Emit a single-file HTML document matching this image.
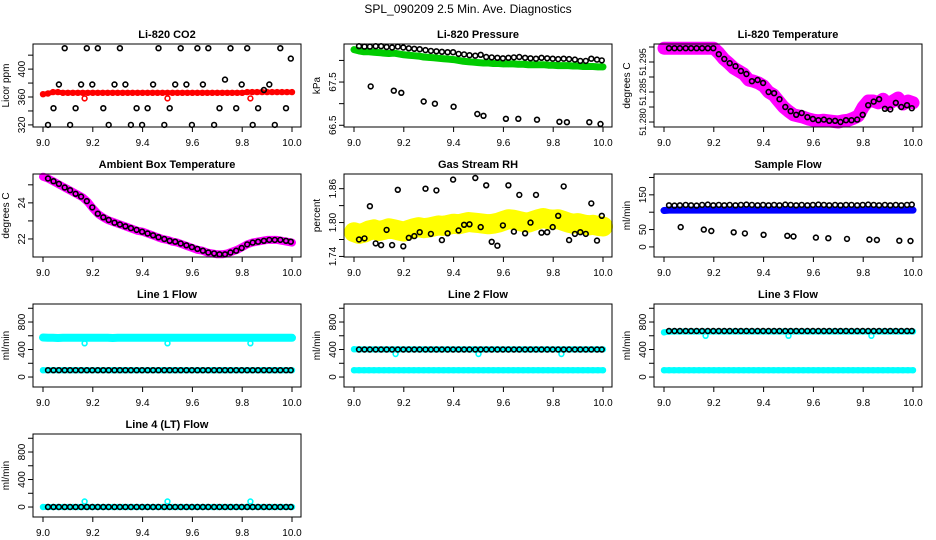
<!DOCTYPE html>
<html><head><meta charset="utf-8">
<style>
html,body{margin:0;padding:0;background:#fff;}
svg{display:block;font-family:"Liberation Sans",sans-serif;}
</style></head>
<body>
<svg id="chart" width="936" height="540" viewBox="0 0 936 540" xmlns="http://www.w3.org/2000/svg">
<rect width="936" height="540" fill="#fff"/>
<text x="468" y="13" text-anchor="middle" font-size="12">SPL_090209  2.5 Min. Ave. Diagnostics</text>
</svg>
<script>
// ---- shared time arrays ----
const timeBlack = [9.02,9.042,9.064,9.087,9.109,9.131,9.153,9.176,9.198,9.22,9.242,9.264,9.287,9.309,9.331,9.353,9.376,9.398,9.42,9.442,9.464,9.487,9.509,9.531,9.553,9.576,9.598,9.62,9.642,9.664,9.687,9.709,9.731,9.753,9.776,9.798,9.82,9.842,9.864,9.887,9.909,9.931,9.953,9.976,9.995];
const timeColor = [9.0,9.02,9.04,9.06,9.08,9.1,9.12,9.14,9.16,9.18,9.2,9.22,9.24,9.26,9.28,9.3,9.32,9.34,9.36,9.38,9.4,9.42,9.44,9.46,9.48,9.5,9.52,9.54,9.56,9.58,9.6,9.62,9.64,9.66,9.68,9.7,9.72,9.74,9.76,9.78,9.8,9.82,9.84,9.86,9.88,9.9,9.92,9.94,9.96,9.98,10.0];
const timeOutlier = [9.167,9.5,9.833];
const timeLow = [9.067,9.16,9.19,9.28,9.325,9.4,9.495,9.52,9.61,9.66,9.735,9.825,9.855,9.945,9.99];
const xTicks = [9.0,9.2,9.4,9.6,9.8,10.0];
const xTickLabels = ["9.0","9.2","9.4","9.6","9.8","10.0"];

// ---- CO2 ----
const co2Red = [364,365,367,367,366,366,366,366,366,366,366,366,366,366,366,366,366,366,366,366,366,366,366,366,366,366,366,366,366,366,366,366,366,366,366,366,366,366,366,366,366,367,367,367,367,367,367,367,367,367,367];
const co2Black = [320,344,378,430,320,344,378,430,378,430,344,320,378,430,378,320,344,320,344,378,430,320,344,378,430,378,320,430,378,430,320,344,385,430,344,378,430,320,344,370,378,320,430,344,415];
const co2Outlier = [358,358,358];
// ---- Pressure ----
const pressGreen = [68.25,68.22,68.2,68.2,68.19,68.18,68.17,68.16,68.17,68.15,68.13,68.12,68.11,68.1,68.08,68.07,68.06,68.05,68.04,68.03,68.02,68.0,67.98,67.97,67.96,67.95,67.94,67.94,67.93,67.93,67.92,67.92,67.92,67.91,67.91,67.9,67.9,67.9,67.9,67.89,67.89,67.88,67.88,67.88,67.87,67.87,67.86,67.86,67.86,67.85,67.85];
const pressBlack = [68.33,68.32,68.32,68.33,68.33,68.31,68.3,68.32,68.3,68.28,68.27,68.26,68.24,68.22,68.21,68.2,68.19,68.19,68.15,68.14,68.12,68.11,68.13,68.08,68.07,68.06,68.05,68.06,68.07,68.08,68.06,68.05,68.04,68.06,68.05,68.04,68.03,68.04,68.03,68.02,67.99,67.99,68.04,68.02,68.0];
const pressLow = [67.4,67.3,67.25,67.05,67.0,66.93,66.76,66.72,66.65,66.65,66.63,66.58,66.57,66.57,66.53];
// ---- Li-820 temperature ----
const liTempMag = [51.2923,51.2923,51.2923,51.2923,51.2923,51.2923,51.2923,51.2923,51.2923,51.2923,51.2923,51.2915,51.2905,51.2898,51.289,51.2885,51.288,51.287,51.2868,51.2865,51.286,51.285,51.2845,51.2835,51.2825,51.2818,51.2812,51.281,51.2808,51.2805,51.2803,51.2802,51.2803,51.2802,51.2801,51.28,51.2802,51.2803,51.2806,51.281,51.2825,51.2835,51.2835,51.2832,51.2838,51.283,51.2835,51.284,51.283,51.2835,51.2832];
const liTempBlack = [51.2923,51.2923,51.2923,51.2923,51.2923,51.2923,51.2923,51.2923,51.2923,51.2913,51.2905,51.2898,51.2893,51.2885,51.288,51.2868,51.287,51.2865,51.285,51.2848,51.2838,51.2825,51.2818,51.2812,51.2815,51.2808,51.2805,51.2803,51.2804,51.2802,51.2802,51.28,51.2803,51.2803,51.2804,51.2812,51.2828,51.2834,51.2838,51.2822,51.2821,51.2832,51.2825,51.2828,51.2823];
// ---- Ambient box temperature ----
const ambMag = [25.45,25.35,25.2,25.05,24.9,24.75,24.6,24.45,24.3,24.05,23.7,23.4,23.2,23.05,22.95,22.85,22.75,22.65,22.55,22.45,22.4,22.3,22.2,22.1,22.0,21.95,21.85,21.8,21.7,21.6,21.5,21.4,21.35,21.25,21.2,21.15,21.15,21.2,21.3,21.4,21.55,21.7,21.8,21.85,21.9,21.95,21.95,21.95,21.9,21.85,21.8];
const ambBlack = [25.35,25.2,25.05,24.85,24.7,24.5,24.35,24.1,23.75,23.4,23.2,23.05,22.9,22.8,22.7,22.6,22.5,22.4,22.3,22.2,22.1,22.0,21.9,21.85,21.75,21.65,21.55,21.45,21.35,21.25,21.2,21.15,21.15,21.25,21.35,21.5,21.7,21.8,21.85,21.9,21.95,21.95,21.95,21.9,21.85];
// ---- Gas stream RH ----
const rhYellow = [1.783,1.780,1.782,1.786,1.788,1.785,1.787,1.790,1.788,1.786,1.784,1.787,1.790,1.792,1.790,1.791,1.793,1.795,1.794,1.796,1.798,1.797,1.799,1.801,1.800,1.799,1.798,1.797,1.798,1.800,1.803,1.806,1.805,1.803,1.801,1.800,1.803,1.806,1.808,1.806,1.805,1.806,1.803,1.800,1.798,1.799,1.797,1.795,1.796,1.794,1.793];
const rhBlack = [1.770,1.772,1.829,1.763,1.760,1.787,1.760,1.858,1.758,1.773,1.776,1.783,1.860,1.780,1.857,1.769,1.781,1.876,1.786,1.796,1.797,1.879,1.792,1.866,1.766,1.759,1.795,1.866,1.784,1.849,1.781,1.800,1.849,1.782,1.783,1.792,1.812,1.864,1.769,1.780,1.783,1.780,1.834,1.768,1.812];
// ---- Sample flow ----
const sampleBlue = [105,106,106,106,106,106,106,106,106,106,106,106,106,106,106,106,106,106,106,106,106,106,106,106,106,106,106,106,106,106,106,106,106,106,106,106,106,106,106,106,106,106,106,106,106,106,106,106,106,106,106];
const sampleBlack = [120,119,120,121,120,119,121,122,120,121,120,121,120,121,122,121,120,121,120,121,120,122,121,120,121,120,121,122,121,120,121,120,121,121,120,121,122,121,120,121,120,121,120,121,122];
const sampleLow = [57,50,46,42,39,35,32,30,27,25,23,21,20,18,17];
// ---- Line flows ----
const line1CyanHi = [575,570,570,568,570,572,570,570,570,570,572,570,570,570,568,570,570,572,570,570,570,570,570,572,570,570,570,570,570,570,570,570,570,572,570,570,570,570,570,570,570,572,570,570,570,570,570,570,570,570,570];
const line1CyanLo = [100,100,100,100,100,100,100,100,100,100,100,100,100,100,100,100,100,100,100,100,100,100,100,100,100,100,100,100,100,100,100,100,100,100,100,100,100,100,100,100,100,100,100,100,100,100,100,100,100,100,100];
const line1Black = [100,100,100,100,100,100,100,100,100,100,100,100,100,100,100,100,100,100,100,100,100,100,100,100,100,100,100,100,100,100,100,100,100,100,100,100,100,100,100,100,100,100,100,100,100];
const line1Outlier = [490,490,490];
const line2CyanHi = [405,402,402,402,402,402,402,402,402,402,402,402,402,402,402,402,402,402,402,402,402,402,402,402,402,402,402,402,402,402,402,402,402,402,402,402,402,402,402,402,402,402,402,402,402,402,402,402,402,402,402];
const line2CyanLo = [100,100,100,100,100,100,100,100,100,100,100,100,100,100,100,100,100,100,100,100,100,100,100,100,100,100,100,100,100,100,100,100,100,100,100,100,100,100,100,100,100,100,100,100,100,100,100,100,100,100,100];
const line2Black = [400,400,400,400,400,400,400,400,400,400,400,400,400,400,400,400,400,400,400,400,400,400,400,400,400,400,400,400,400,400,400,400,400,400,400,400,400,400,400,400,400,400,400,400,400];
const line2Outlier = [335,335,335];
const line3CyanHi = [650,660,662,662,662,662,662,662,662,662,662,662,662,662,662,662,662,662,662,662,662,662,662,662,662,662,662,662,662,662,662,662,662,662,662,662,662,662,662,662,662,662,662,662,662,662,662,662,662,662,662];
const line3CyanLo = [100,100,100,100,100,100,100,100,100,100,100,100,100,100,100,100,100,100,100,100,100,100,100,100,100,100,100,100,100,100,100,100,100,100,100,100,100,100,100,100,100,100,100,100,100,100,100,100,100,100,100];
const line3Black = [670,670,670,670,670,670,670,670,670,670,670,670,670,670,670,670,670,670,670,670,670,670,670,670,670,670,670,670,670,670,670,670,670,670,670,670,670,670,670,670,670,670,670,670,670];
const line3Outlier = [600,600,600];
const line4Cyan = [0,0,0,0,0,0,0,0,0,0,0,0,0,0,0,0,0,0,0,0,0,0,0,0,0,0,0,0,0,0,0,0,0,0,0,0,0,0,0,0,0,0,0,0,0,0,0,0,0,0,0];
const line4Black = [0,0,0,0,0,0,0,0,0,0,0,0,0,0,0,0,0,0,0,0,0,0,0,0,0,0,0,0,0,0,0,0,0,0,0,0,0,0,0,0,0,0,0,0,0];
const line4Outlier = [80,80,80];

const flowTicks = [0,200,400,600,800,1000];
const flowLabels = ["0","","400","","800",""];

const NS = "http://www.w3.org/2000/svg";
const svg = document.getElementById("chart");
function mk(tag, attrs, parent){
  const e = document.createElementNS(NS, tag);
  for (const k in attrs) e.setAttribute(k, attrs[k]);
  (parent||svg).appendChild(e);
  return e;
}
const colL = [33,344,654], colR = [301,612,922], rowT = [44,174,304,434], PH = 83;

function panel(name, title, ylab, col, row, ylim, yTicks, yLabels, series, yfs){
  const L = colL[col], R = colR[col], T = rowT[row], B = T + PH;
  const g = mk("g", {});
  
  
  const xs = v => L + 10 + (v - 9) * (R - L - 19);
  const ys = v => B - (v - ylim[0]) / (ylim[1] - ylim[0]) * PH;
  const t = mk("text", {x:(L+R)/2, y:T-6, "text-anchor":"middle", "font-size":"11", "font-weight":"bold"}, g);
  t.textContent = title;
  
  
  const yl = mk("text", {x:0, y:0, transform:`translate(${L-24},${(T+B)/2}) rotate(-90)`, "text-anchor":"middle", "font-size":"10"}, g);
  yl.textContent = ylab;
  
  
  for (const s of series){
    const sg = mk("g", {}, g);
    
    
    if (s.band){
      const pts = s.x.map((v,i)=>xs(v).toFixed(1)+","+ys(s.y[i]).toFixed(1)).join(" ");
      const pl = mk("polyline", {points:pts, fill:"none", stroke:s.color, "stroke-width":s.band, "stroke-linejoin":"round", "stroke-linecap":"round"}, sg);
      
      
    }
    s.x.forEach((v,i)=>{
      const c = mk("circle", {cx:xs(v).toFixed(1), cy:ys(s.y[i]).toFixed(1), r:2.4, fill:"none", stroke:s.color, "stroke-width":1.6}, sg);
      
      
    });
  }
  mk("rect", {x:L, y:T, width:R-L, height:PH, fill:"none", stroke:"#000", "stroke-width":1}, g);
  xTicks.forEach((v,i)=>{
    mk("line", {x1:xs(v), x2:xs(v), y1:B, y2:B+5, stroke:"#000"}, g);
    const lt = mk("text", {x:xs(v), y:B+19, "text-anchor":"middle", "font-size":"10"}, g);
    lt.textContent = xTickLabels[i];
    
    
  });
  yTicks.forEach((v,i)=>{
    const y = ys(v);
    mk("line", {x1:L, x2:L-5, y1:y, y2:y, stroke:"#000"}, g);
    if (yLabels[i]){
      const lt = mk("text", {x:0, y:0, transform:`translate(${L-8},${y}) rotate(-90)`, "text-anchor":"middle", "font-size":yfs||"10"}, g);
      lt.textContent = yLabels[i];
      
      
    }
  });
}

panel("co2","Li-820 CO2","Licor ppm",0,0,[317,436],[320,340,360,380,400,420],["320","","360","","400",""],[
  {name:"red-series",x:timeColor,y:co2Red,color:"#ff0000",band:5},
  {name:"red-outliers",x:timeOutlier,y:co2Outlier,color:"#ff0000"},
  {name:"black-series",x:timeBlack,y:co2Black,color:"#000"}]);
panel("pressure","Li-820 Pressure","kPa",1,0,[66.46,68.38],[66.5,67.0,67.5,68.0],["66.5","","67.5",""],[
  {name:"green-series",x:timeColor,y:pressGreen,color:"#00cc00",band:7},
  {name:"black-series",x:timeBlack,y:pressBlack,color:"#000"},
  {name:"black-low-series",x:timeLow,y:pressLow,color:"#000"}]);
panel("li-temp","Li-820 Temperature","degrees C",2,0,[51.27917,51.2930],[51.280,51.2825,51.285,51.2875,51.290,51.2925],["51.280","","51.285","","51.295",""],[
  {name:"magenta-series",x:timeColor,y:liTempMag,color:"#ff00ff",band:13},
  {name:"black-series",x:timeBlack,y:liTempBlack,color:"#000"}],"9");
panel("ambient","Ambient Box Temperature","degrees C",0,1,[21.0,25.6],[22,23,24,25],["22","","24",""],[
  {name:"magenta-series",x:timeColor,y:ambMag,color:"#ff00ff",band:8},
  {name:"black-series",x:timeBlack,y:ambBlack,color:"#000"}]);
panel("rh","Gas Stream RH","percent",1,1,[1.739,1.886],[1.74,1.77,1.80,1.83,1.86],["1.74","","1.80","","1.86"],[
  {name:"yellow-series",x:timeColor,y:rhYellow,color:"#ffff00",band:20},
  {name:"black-series",x:timeBlack,y:rhBlack,color:"#000"}]);
panel("sample-flow","Sample Flow","ml/min",2,1,[-29,210],[0,50,100,150,200],["0","50","","150",""],[
  {name:"blue-series",x:timeColor,y:sampleBlue,color:"#0000ff",band:7},
  {name:"black-series",x:timeBlack,y:sampleBlack,color:"#000"},
  {name:"black-low-series",x:timeLow,y:sampleLow,color:"#000"}]);
panel("line1","Line 1 Flow","ml/min",0,2,[-145,1062],flowTicks,flowLabels,[
  {name:"cyan-high-series",x:timeColor,y:line1CyanHi,color:"#00ffff",band:8},
  {name:"cyan-low-series",x:timeColor,y:line1CyanLo,color:"#00ffff",band:6},
  {name:"cyan-outliers",x:timeOutlier,y:line1Outlier,color:"#00ffff"},
  {name:"black-series",x:timeBlack,y:line1Black,color:"#000"}]);
panel("line2","Line 2 Flow","ml/min",1,2,[-145,1062],flowTicks,flowLabels,[
  {name:"cyan-high-series",x:timeColor,y:line2CyanHi,color:"#00ffff",band:6},
  {name:"cyan-low-series",x:timeColor,y:line2CyanLo,color:"#00ffff",band:6},
  {name:"cyan-outliers",x:timeOutlier,y:line2Outlier,color:"#00ffff"},
  {name:"black-series",x:timeBlack,y:line2Black,color:"#000"}]);
panel("line3","Line 3 Flow","ml/min",2,2,[-145,1062],flowTicks,flowLabels,[
  {name:"cyan-high-series",x:timeColor,y:line3CyanHi,color:"#00ffff",band:6},
  {name:"cyan-low-series",x:timeColor,y:line3CyanLo,color:"#00ffff",band:6},
  {name:"cyan-outliers",x:timeOutlier,y:line3Outlier,color:"#00ffff"},
  {name:"black-series",x:timeBlack,y:line3Black,color:"#000"}]);
panel("line4","Line 4 (LT) Flow","ml/min",0,3,[-145,1062],flowTicks,flowLabels,[
  {name:"cyan-series",x:timeColor,y:line4Cyan,color:"#00ffff",band:6},
  {name:"cyan-outliers",x:timeOutlier,y:line4Outlier,color:"#00ffff"},
  {name:"black-series",x:timeBlack,y:line4Black,color:"#000"}]);
</script>
</body></html>
